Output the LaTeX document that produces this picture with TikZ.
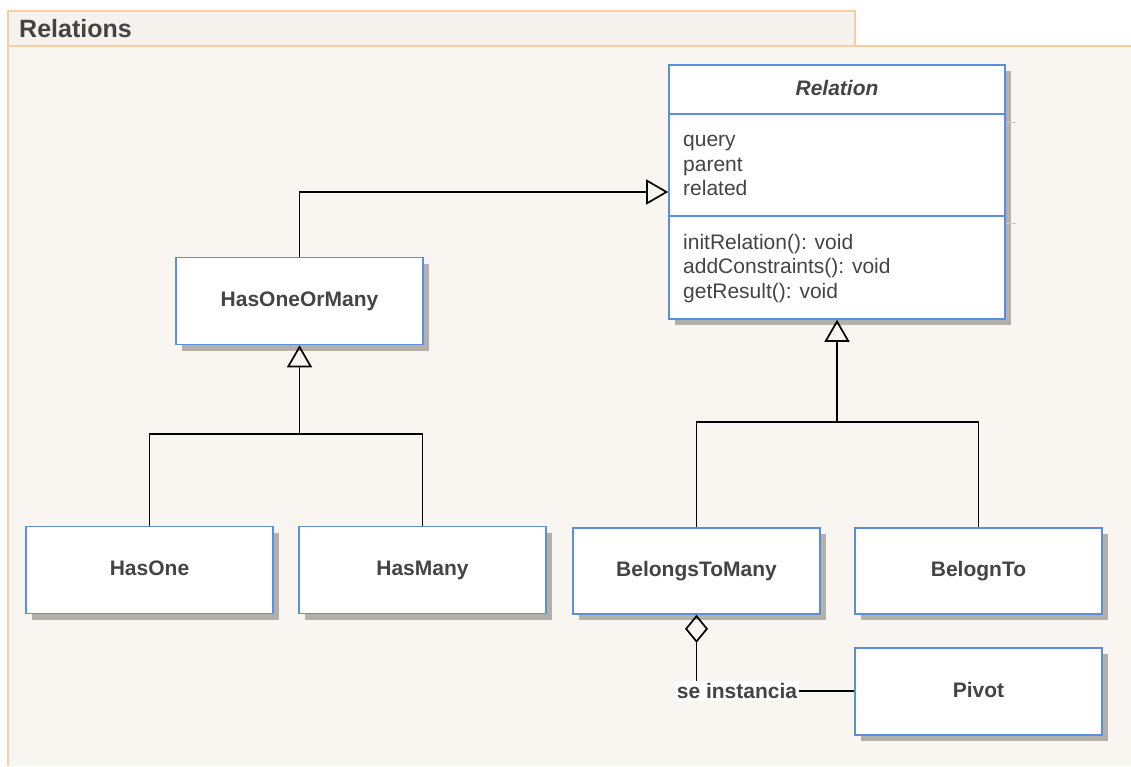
\documentclass[tikz,border=0pt]{standalone}
\usepackage{fontspec}
\setmainfont{Liberation Sans}
\usetikzlibrary{arrows.meta,shadows}
\definecolor{pkgline}{HTML}{F8CCA4}
\definecolor{pkgfill}{HTML}{F9F6F2}
\definecolor{tabfill}{HTML}{F6F2ED}
\definecolor{boxline}{HTML}{5B8FDB}
\definecolor{shadegray}{HTML}{B3AFAB}
\definecolor{txt}{HTML}{444444}
\tikzset{
  umlbox/.style={draw=boxline, line width=1.6pt, fill=white, rectangle,
    minimum width=247pt, minimum height=87pt, inner sep=0pt,
    text height=15pt, text depth=4pt,
    general shadow={fill=shadegray, shadow xshift=6pt, shadow yshift=-6pt},
    font=\fontsize{21}{24}\selectfont\bfseries, text=txt},
  member/.style={anchor=base west, inner sep=0pt, font=\fontsize{21}{24}\selectfont, text=txt},
  conn/.style={draw=black, line width=1.7pt},
  gen/.style={conn, -{Triangle[open, length=22pt, width=25pt, line width=1.7pt]}},
  agg/.style={conn, {Diamond[open, length=28pt, width=23pt, line width=1.7pt]}-},
}
\begin{document}
\begin{tikzpicture}[x=1pt, y=-1pt]
\useasboundingbox (0,0) rectangle (1131,766);
\fill[white] (0,0) rectangle (1131,766);
% package frame
\fill[pkgfill] (8,46) rectangle (1131,766);
\fill[tabfill] (8,11) rectangle (855,46);
\draw[pkgline, line width=1.5pt] (8,766) -- (8,11) -- (855,11) -- (855,46);
\draw[pkgline, line width=1.5pt] (8,46) -- (1131,46);
\node[anchor=base west, inner sep=0pt, font=\fontsize{25}{28}\selectfont\bfseries, text=txt] (title) at (19,37) {Relations};

% abstract class with compartments
\node[umlbox, minimum width=336pt, minimum height=254pt] (rel) at (837,192) {};
\node[font=\fontsize{21}{24}\selectfont\bfseries\itshape, text=txt] (relname) at (837,88) {Relation};
\coordinate (c1) at (669,114);
\coordinate (c2) at (669,216);
\draw[boxline, line width=1.6pt] (c1) -- (c1 -| rel.east);
\draw[boxline, line width=1.6pt] (c2) -- (c2 -| rel.east);
\draw[shadegray!70, line width=1pt] (1006,122) -- (1016,122);
\draw[shadegray!70, line width=1pt] (1006,223) -- (1016,223);
\node[member] (a1) at (683,146) {query};
\node[member] (a2) at (683,171) {parent};
\node[member] (a3) at (683,195) {related};
\node[member] (m1) at (683,249) {initRelation(): void};
\node[member] (m2) at (683,273) {addConstraints(): void};
\node[member] (m3) at (683,298) {getResult(): void};

% classes
\node[umlbox] (hom) at (299.5,301) {HasOneOrMany};
\node[umlbox] (hasone) at (149.5,570) {HasOne};
\node[umlbox] (hasmany) at (422.5,570) {HasMany};
\node[umlbox, minimum height=86pt] (btm) at (696.5,571) {BelongsToMany};
\node[umlbox, minimum height=86pt] (bto) at (978.5,571) {BelognTo};
\node[umlbox] (pivot) at (978.5,691.5) {Pivot};

% generalizations
\draw[gen] (hom.north) |- (rel.west);
\coordinate (jl) at (299.5,434);
\draw[conn] (hasone.north) |- (hasmany.north |- jl) -- (hasmany.north);
\draw[gen] (jl) -- (hom.south);
\coordinate (jr) at (837,422);
\draw[conn] (btm.north) |- (bto.north |- jr) -- (bto.north);
\draw[gen] (jr) -- (rel.south);

% aggregation
\node[fill=white, inner sep=2pt, font=\fontsize{21}{24}\selectfont\bfseries, text=txt] (lbl) at (737,691) {se instancia};
\draw[agg] (btm.south) -- (btm.south |- lbl.north);
\draw[conn] (lbl.east) -- (pivot.west |- lbl.east);
\end{tikzpicture}
\end{document}
